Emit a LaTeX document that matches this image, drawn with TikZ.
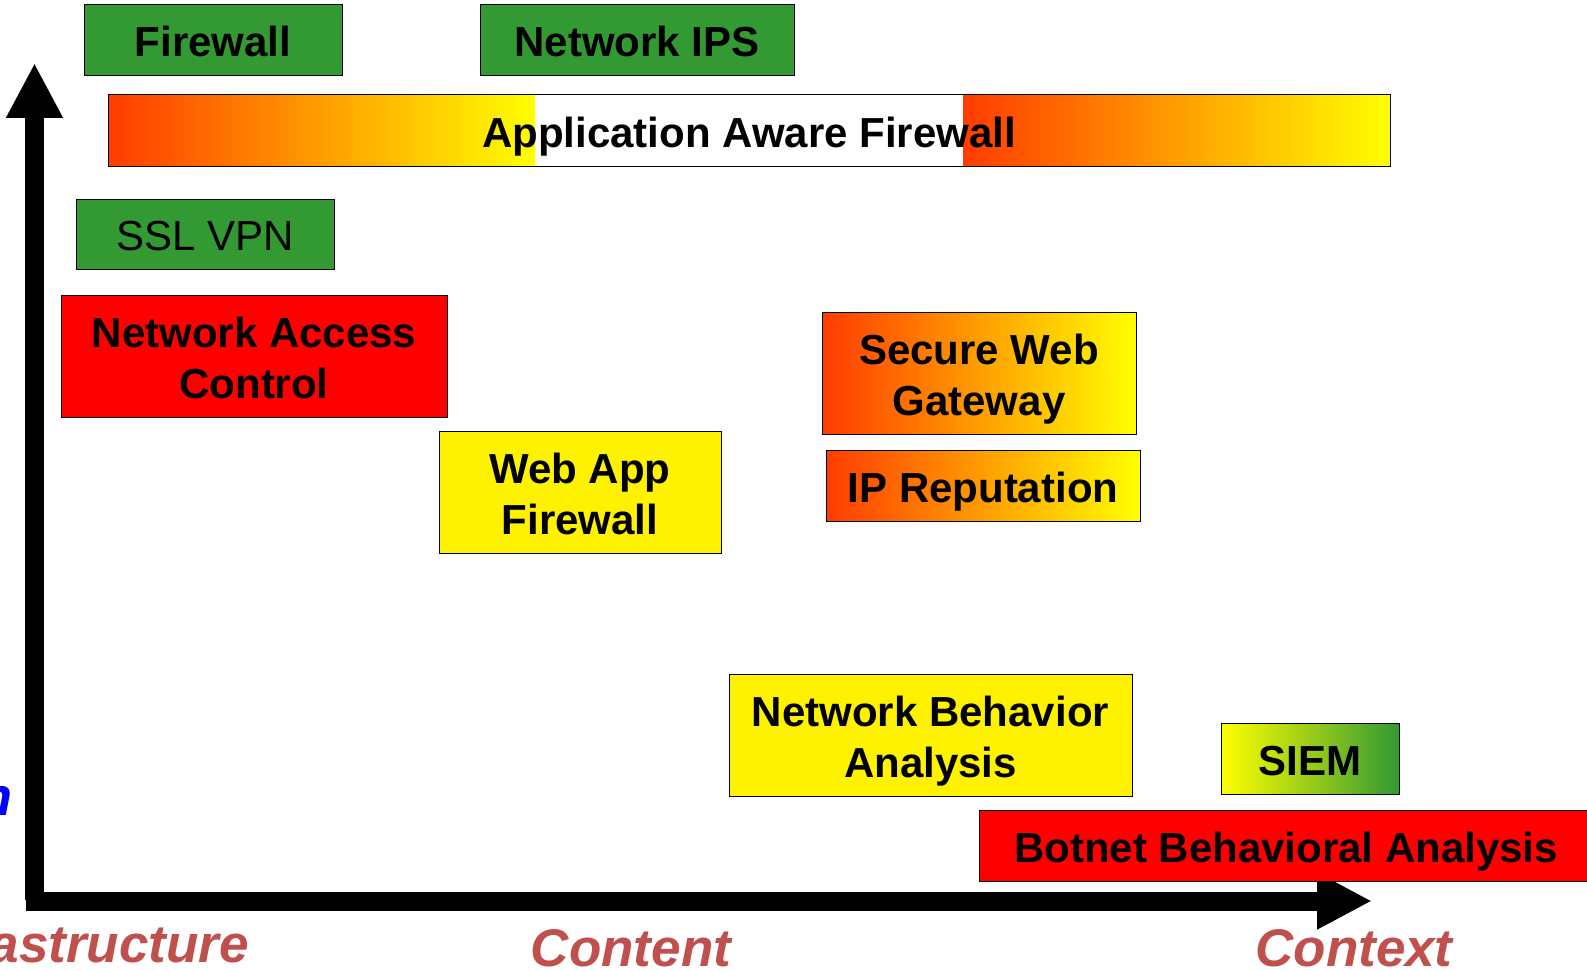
\documentclass[tikz,border=0pt]{standalone}
\usepackage{fontspec}
\setmainfont{Liberation Sans}
\usetikzlibrary{arrows.meta}
\definecolor{boxgreen}{RGB}{51,153,51}
\definecolor{redor}{RGB}{255,60,0}
\definecolor{axislabel}{RGB}{192,80,77}
\begin{document}
\begin{tikzpicture}[x=1pt,y=-1pt,
  box/.style={draw=black, line width=1pt, inner sep=0pt, align=center,
    font=\fontsize{42}{51}\selectfont\bfseries, text=black,
    text height=33pt, text depth=0pt},
  twoline/.style={text height=84pt, text depth=0pt},
  greenbox/.style={box, fill=boxgreen},
  redbox/.style={box, fill=red},
  yellowbox/.style={box, fill=yellow},
  hotbox/.style={box, left color=redor, right color=yellow},
  siembox/.style={box, left color=yellow, right color=boxgreen},
  axisline/.style={line width=19pt, -{Triangle[length=55pt,width=53pt]}},
  axislab/.style={inner sep=0pt, font=\fontsize{53}{60}\selectfont\bfseries\itshape, text=axislabel}
]
\useasboundingbox (0,0) rectangle (1587,971);
\fill[white] (0,0) rectangle (1587,971);

% axes
\coordinate (yb) at (34.5,900);
\coordinate (yt) at (34.5,63);
\coordinate (xl) at (26,901);
\coordinate (xr) at (1372,901);
\draw[axisline] (yb) -- (yt);
\draw[axisline] (xl) -- (xr);

% top row
\node[greenbox, minimum width=258, minimum height=71] (fw) at (213,40.5) {Firewall};
\node[greenbox, minimum width=314, minimum height=71] (ips) at (637,40.5) {Network IPS};

% application aware firewall bar
\shade[left color=redor, right color=yellow] (108,95) rectangle (535,166);
\shade[left color=redor, right color=yellow] (963,95) rectangle (1390,166);
\node[box, minimum width=1282, minimum height=71] (aaf) at (749,130.5) {Application Aware Firewall};

\node[greenbox, minimum width=258, minimum height=70, font=\fontsize{42}{51}\selectfont] (ssl) at (205,234) {SSL VPN};
\node[redbox, twoline, minimum width=386, minimum height=122] (nac) at (254,356) {Network Access\\Control};
\node[yellowbox, twoline, minimum width=282, minimum height=122] (waf) at (580,492) {Web App\\Firewall};
\node[hotbox, twoline, minimum width=314, minimum height=122] (swg) at (979,373) {Secure Web\\Gateway};
\node[hotbox, minimum width=314, minimum height=71] (ipr) at (983,485.5) {IP Reputation};
\node[yellowbox, twoline, minimum width=403, minimum height=122] (nba) at (930.5,735) {Network Behavior\\Analysis};
\node[siembox, minimum width=178, minimum height=71] (siem) at (1310,758.5) {SIEM};
\node[redbox, minimum width=614, minimum height=71] (bba) at (1286,845.5) {Botnet Behavioral Analysis};

% axis labels
\node[axislab, anchor=base east] (infra) at (249,962) {astructure};
\node[axislab, anchor=base] (content) at (631,966) {Content};
\node[axislab, anchor=base] (context) at (1354,966) {Context};
\node[inner sep=0pt, anchor=base east, text=blue, font=\fontsize{54}{60}\selectfont\bfseries\itshape] (nlab) at (13,815) {n};
\end{tikzpicture}
\end{document}
